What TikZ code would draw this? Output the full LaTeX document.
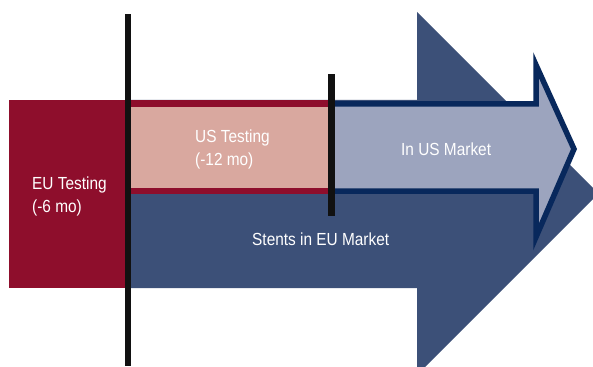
\documentclass[tikz,border=0pt]{standalone}
\usepackage{fontspec}
\setmainfont{Liberation Sans}[FakeStretch=0.88]
\definecolor{eured}{RGB}{142,14,44}
\definecolor{uspink}{RGB}{217,168,159}
\definecolor{bigblue}{RGB}{60,80,120}
\definecolor{usfill}{RGB}{156,164,190}
\definecolor{navy}{RGB}{8,40,92}
\definecolor{barblack}{RGB}{17,17,17}
\tikzset{
  lbl/.style={text=white, inner sep=0pt, font=\fontsize{17.5}{23}\selectfont, align=left},
}
\begin{document}
\begin{tikzpicture}[x=1pt,y=-1pt]
\useasboundingbox (0,0) rectangle (593,366);
\begin{scope}
\clip (0,0) rectangle (593,366);
% big arrow
\fill[bigblue] (125,100) -- (417,100) -- (417,12) -- (598.5,193.5) -- (417,375) -- (417,288) -- (125,288) -- cycle;
% EU testing box
\fill[eured] (9,100) rectangle (125,288);
% US testing
\fill[uspink] (131,100) rectangle (331,194);
\fill[eured] (131,100) rectangle (331,107);
\fill[eured] (131,188) rectangle (331,194);
% US market arrow
\fill[usfill] (331,104) -- (536,104) -- (536,65) -- (574,149) -- (536,237) -- (536,191) -- (331,191) -- cycle;
\draw[navy, line width=5.5pt, line join=miter] (331,104) -- (536,104) -- (536,65) -- (574,149) -- (536,237) -- (536,191) -- (331,191);
% black bars
\fill[barblack] (125,14) rectangle (131,366);
\fill[barblack] (328,74) rectangle (335,216);
\end{scope}
\node[lbl, anchor=north west] (eu) at (32,177) {EU Testing\\(-6 mo)};
\node[lbl, anchor=north west] (us) at (195,130) {US Testing\\(-12 mo)};
\node[lbl, anchor=base west] (usm) at (401,155) {In US Market};
\node[lbl, anchor=base west] (eum) at (252,245) {Stents in EU Market};
\end{tikzpicture}
\end{document}
